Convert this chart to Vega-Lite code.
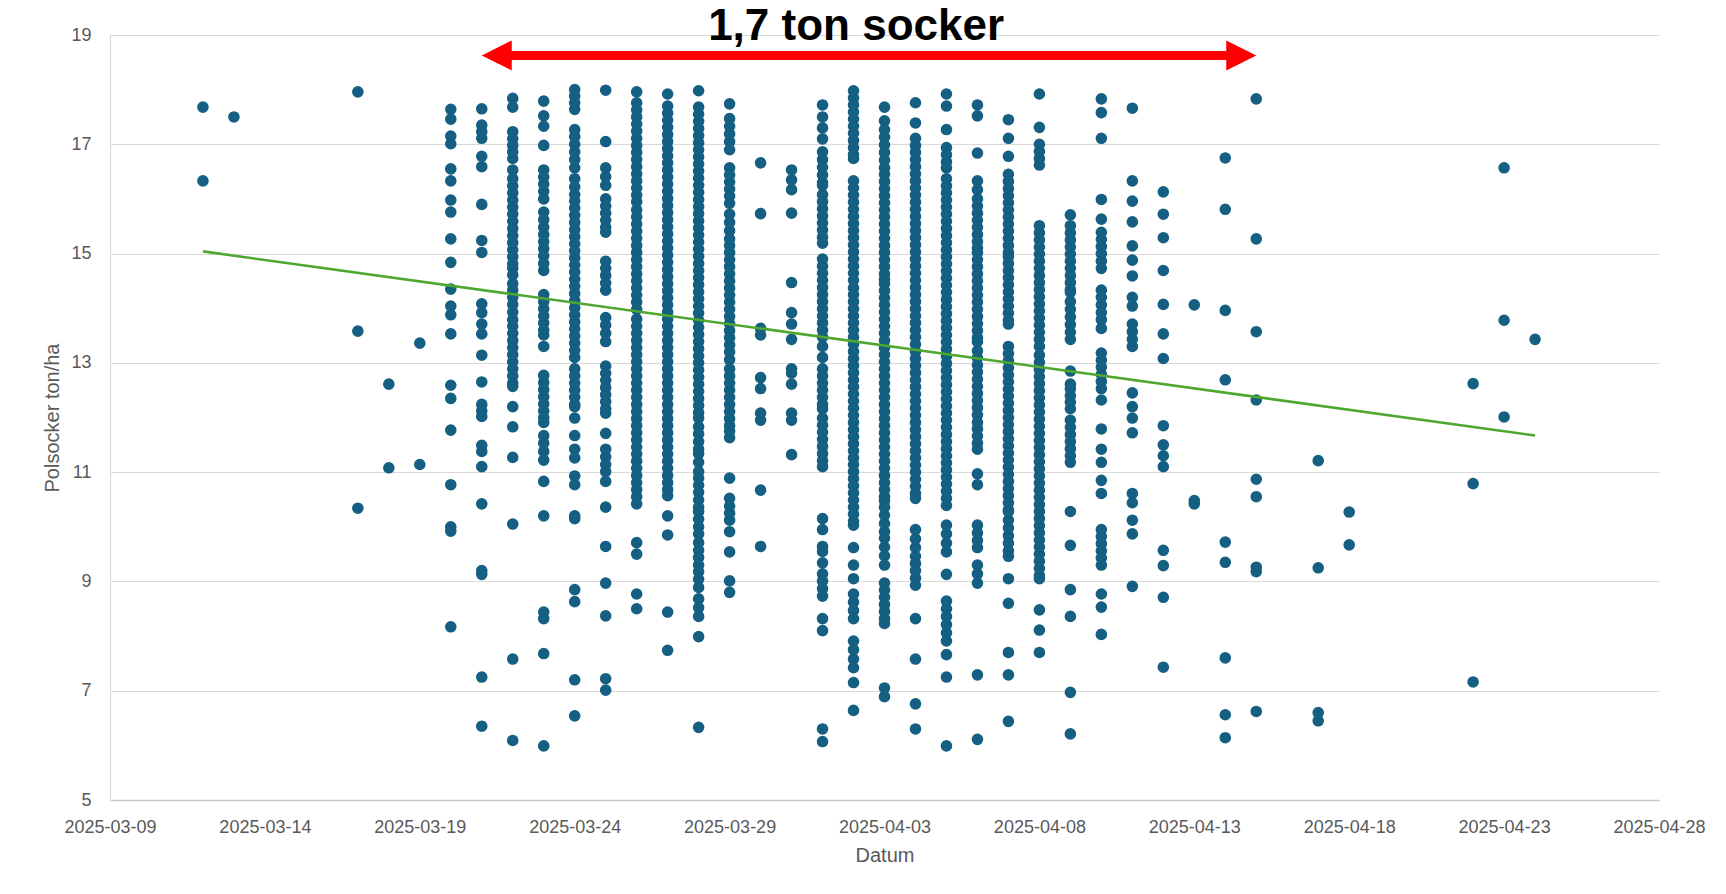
{
"$schema":"https://vega.github.io/schema/vega-lite/v6.json",
"width":1549,"height":765,
"autosize":{"type":"none"},
"padding":{"left":110,"top":35,"right":67,"bottom":94},
"background":"white",
"config":{"view":{"stroke":null},"font":"Liberation Sans"},
"datasets":{
"beets":[
{"datum":"2025-03-12","ton":17.68},{"datum":"2025-03-12","ton":16.33},
{"datum":"2025-03-13","ton":17.5},
{"datum":"2025-03-17","ton":17.96},{"datum":"2025-03-17","ton":13.58},{"datum":"2025-03-17","ton":10.34},
{"datum":"2025-03-18","ton":12.61},{"datum":"2025-03-18","ton":11.08},
{"datum":"2025-03-19","ton":13.36},{"datum":"2025-03-19","ton":11.14},
{"datum":"2025-03-20","ton":17.64},{"datum":"2025-03-20","ton":17.46},{"datum":"2025-03-20","ton":17.15},{"datum":"2025-03-20","ton":17.01},{"datum":"2025-03-20","ton":16.55},{"datum":"2025-03-20","ton":16.33},{"datum":"2025-03-20","ton":15.98},{"datum":"2025-03-20","ton":15.76},{"datum":"2025-03-20","ton":15.27},{"datum":"2025-03-20","ton":14.84},{"datum":"2025-03-20","ton":14.35},{"datum":"2025-03-20","ton":14.04},{"datum":"2025-03-20","ton":13.88},{"datum":"2025-03-20","ton":13.53},{"datum":"2025-03-20","ton":12.59},{"datum":"2025-03-20","ton":12.35},{"datum":"2025-03-20","ton":11.77},{"datum":"2025-03-20","ton":10.77},{"datum":"2025-03-20","ton":10.0},{"datum":"2025-03-20","ton":9.92},{"datum":"2025-03-20","ton":8.17},
{"datum":"2025-03-21","ton":17.65},{"datum":"2025-03-21","ton":17.35},{"datum":"2025-03-21","ton":17.23},{"datum":"2025-03-21","ton":17.11},{"datum":"2025-03-21","ton":16.78},{"datum":"2025-03-21","ton":16.59},{"datum":"2025-03-21","ton":15.9},{"datum":"2025-03-21","ton":15.24},{"datum":"2025-03-21","ton":15.02},{"datum":"2025-03-21","ton":14.08},{"datum":"2025-03-21","ton":13.92},{"datum":"2025-03-21","ton":13.71},{"datum":"2025-03-21","ton":13.53},{"datum":"2025-03-21","ton":13.14},{"datum":"2025-03-21","ton":12.65},{"datum":"2025-03-21","ton":12.24},{"datum":"2025-03-21","ton":12.12},{"datum":"2025-03-21","ton":12.02},{"datum":"2025-03-21","ton":11.49},{"datum":"2025-03-21","ton":11.38},{"datum":"2025-03-21","ton":11.1},{"datum":"2025-03-21","ton":10.42},{"datum":"2025-03-21","ton":9.2},{"datum":"2025-03-21","ton":9.13},{"datum":"2025-03-21","ton":7.25},{"datum":"2025-03-21","ton":6.35},
{"datum":"2025-03-22","ton":17.84},{"datum":"2025-03-22","ton":17.68},{"datum":"2025-03-22","ton":17.23},{"datum":"2025-03-22","ton":17.1},{"datum":"2025-03-22","ton":16.98},{"datum":"2025-03-22","ton":16.86},{"datum":"2025-03-22","ton":16.74},{"datum":"2025-03-22","ton":16.53},{"datum":"2025-03-22","ton":16.37},{"datum":"2025-03-22","ton":16.24},{"datum":"2025-03-22","ton":16.11},{"datum":"2025-03-22","ton":15.98},{"datum":"2025-03-22","ton":15.85},{"datum":"2025-03-22","ton":15.72},{"datum":"2025-03-22","ton":15.59},{"datum":"2025-03-22","ton":15.46},{"datum":"2025-03-22","ton":15.33},{"datum":"2025-03-22","ton":15.2},{"datum":"2025-03-22","ton":15.07},{"datum":"2025-03-22","ton":14.94},{"datum":"2025-03-22","ton":14.81},{"datum":"2025-03-22","ton":14.73},{"datum":"2025-03-22","ton":14.61},{"datum":"2025-03-22","ton":14.45},{"datum":"2025-03-22","ton":14.33},{"datum":"2025-03-22","ton":14.2},{"datum":"2025-03-22","ton":14.07},{"datum":"2025-03-22","ton":13.93},{"datum":"2025-03-22","ton":13.79},{"datum":"2025-03-22","ton":13.67},{"datum":"2025-03-22","ton":13.54},{"datum":"2025-03-22","ton":13.41},{"datum":"2025-03-22","ton":13.28},{"datum":"2025-03-22","ton":13.15},{"datum":"2025-03-22","ton":13.02},{"datum":"2025-03-22","ton":12.89},{"datum":"2025-03-22","ton":12.76},{"datum":"2025-03-22","ton":12.63},{"datum":"2025-03-22","ton":12.57},{"datum":"2025-03-22","ton":12.2},{"datum":"2025-03-22","ton":11.83},{"datum":"2025-03-22","ton":11.27},{"datum":"2025-03-22","ton":10.05},{"datum":"2025-03-22","ton":7.58},{"datum":"2025-03-22","ton":6.09},
{"datum":"2025-03-23","ton":17.79},{"datum":"2025-03-23","ton":17.52},{"datum":"2025-03-23","ton":17.33},{"datum":"2025-03-23","ton":16.98},{"datum":"2025-03-23","ton":16.53},{"datum":"2025-03-23","ton":16.4},{"datum":"2025-03-23","ton":16.27},{"datum":"2025-03-23","ton":16.14},{"datum":"2025-03-23","ton":16.0},{"datum":"2025-03-23","ton":15.76},{"datum":"2025-03-23","ton":15.62},{"datum":"2025-03-23","ton":15.48},{"datum":"2025-03-23","ton":15.35},{"datum":"2025-03-23","ton":15.22},{"datum":"2025-03-23","ton":15.09},{"datum":"2025-03-23","ton":14.96},{"datum":"2025-03-23","ton":14.82},{"datum":"2025-03-23","ton":14.69},{"datum":"2025-03-23","ton":14.25},{"datum":"2025-03-23","ton":14.12},{"datum":"2025-03-23","ton":13.99},{"datum":"2025-03-23","ton":13.86},{"datum":"2025-03-23","ton":13.73},{"datum":"2025-03-23","ton":13.6},{"datum":"2025-03-23","ton":13.51},{"datum":"2025-03-23","ton":13.3},{"datum":"2025-03-23","ton":12.77},{"datum":"2025-03-23","ton":12.64},{"datum":"2025-03-23","ton":12.51},{"datum":"2025-03-23","ton":12.38},{"datum":"2025-03-23","ton":12.25},{"datum":"2025-03-23","ton":12.12},{"datum":"2025-03-23","ton":12.0},{"datum":"2025-03-23","ton":11.91},{"datum":"2025-03-23","ton":11.67},{"datum":"2025-03-23","ton":11.53},{"datum":"2025-03-23","ton":11.38},{"datum":"2025-03-23","ton":11.22},{"datum":"2025-03-23","ton":10.83},{"datum":"2025-03-23","ton":10.2},{"datum":"2025-03-23","ton":8.44},{"datum":"2025-03-23","ton":8.32},{"datum":"2025-03-23","ton":7.68},{"datum":"2025-03-23","ton":5.99},
{"datum":"2025-03-24","ton":18.0},{"datum":"2025-03-24","ton":17.88},{"datum":"2025-03-24","ton":17.76},{"datum":"2025-03-24","ton":17.64},{"datum":"2025-03-24","ton":17.27},{"datum":"2025-03-24","ton":17.14},{"datum":"2025-03-24","ton":17.0},{"datum":"2025-03-24","ton":16.86},{"datum":"2025-03-24","ton":16.72},{"datum":"2025-03-24","ton":16.57},{"datum":"2025-03-24","ton":16.37},{"datum":"2025-03-24","ton":16.22},{"datum":"2025-03-24","ton":16.08},{"datum":"2025-03-24","ton":15.96},{"datum":"2025-03-24","ton":15.83},{"datum":"2025-03-24","ton":15.7},{"datum":"2025-03-24","ton":15.57},{"datum":"2025-03-24","ton":15.44},{"datum":"2025-03-24","ton":15.31},{"datum":"2025-03-24","ton":15.18},{"datum":"2025-03-24","ton":15.05},{"datum":"2025-03-24","ton":14.92},{"datum":"2025-03-24","ton":14.79},{"datum":"2025-03-24","ton":14.66},{"datum":"2025-03-24","ton":14.53},{"datum":"2025-03-24","ton":14.4},{"datum":"2025-03-24","ton":14.27},{"datum":"2025-03-24","ton":14.14},{"datum":"2025-03-24","ton":14.01},{"datum":"2025-03-24","ton":13.88},{"datum":"2025-03-24","ton":13.75},{"datum":"2025-03-24","ton":13.62},{"datum":"2025-03-24","ton":13.49},{"datum":"2025-03-24","ton":13.36},{"datum":"2025-03-24","ton":13.23},{"datum":"2025-03-24","ton":13.1},{"datum":"2025-03-24","ton":12.89},{"datum":"2025-03-24","ton":12.76},{"datum":"2025-03-24","ton":12.63},{"datum":"2025-03-24","ton":12.5},{"datum":"2025-03-24","ton":12.37},{"datum":"2025-03-24","ton":12.24},{"datum":"2025-03-24","ton":12.2},{"datum":"2025-03-24","ton":11.99},{"datum":"2025-03-24","ton":11.67},{"datum":"2025-03-24","ton":11.42},{"datum":"2025-03-24","ton":11.26},{"datum":"2025-03-24","ton":10.93},{"datum":"2025-03-24","ton":10.77},{"datum":"2025-03-24","ton":10.2},{"datum":"2025-03-24","ton":10.15},{"datum":"2025-03-24","ton":8.85},{"datum":"2025-03-24","ton":8.63},{"datum":"2025-03-24","ton":7.2},{"datum":"2025-03-24","ton":6.54},
{"datum":"2025-03-25","ton":17.99},{"datum":"2025-03-25","ton":17.05},{"datum":"2025-03-25","ton":16.57},{"datum":"2025-03-25","ton":16.41},{"datum":"2025-03-25","ton":16.25},{"datum":"2025-03-25","ton":16.0},{"datum":"2025-03-25","ton":15.87},{"datum":"2025-03-25","ton":15.74},{"datum":"2025-03-25","ton":15.61},{"datum":"2025-03-25","ton":15.48},{"datum":"2025-03-25","ton":15.39},{"datum":"2025-03-25","ton":14.86},{"datum":"2025-03-25","ton":14.73},{"datum":"2025-03-25","ton":14.6},{"datum":"2025-03-25","ton":14.46},{"datum":"2025-03-25","ton":14.33},{"datum":"2025-03-25","ton":13.83},{"datum":"2025-03-25","ton":13.69},{"datum":"2025-03-25","ton":13.54},{"datum":"2025-03-25","ton":13.39},{"datum":"2025-03-25","ton":12.94},{"datum":"2025-03-25","ton":12.81},{"datum":"2025-03-25","ton":12.68},{"datum":"2025-03-25","ton":12.55},{"datum":"2025-03-25","ton":12.42},{"datum":"2025-03-25","ton":12.29},{"datum":"2025-03-25","ton":12.16},{"datum":"2025-03-25","ton":12.08},{"datum":"2025-03-25","ton":11.71},{"datum":"2025-03-25","ton":11.42},{"datum":"2025-03-25","ton":11.28},{"datum":"2025-03-25","ton":11.14},{"datum":"2025-03-25","ton":11.01},{"datum":"2025-03-25","ton":10.83},{"datum":"2025-03-25","ton":10.36},{"datum":"2025-03-25","ton":9.64},{"datum":"2025-03-25","ton":8.97},{"datum":"2025-03-25","ton":8.37},{"datum":"2025-03-25","ton":7.22},{"datum":"2025-03-25","ton":7.01},
{"datum":"2025-03-26","ton":17.96},{"datum":"2025-03-26","ton":17.76},{"datum":"2025-03-26","ton":17.63},{"datum":"2025-03-26","ton":17.5},{"datum":"2025-03-26","ton":17.37},{"datum":"2025-03-26","ton":17.24},{"datum":"2025-03-26","ton":17.11},{"datum":"2025-03-26","ton":16.98},{"datum":"2025-03-26","ton":16.85},{"datum":"2025-03-26","ton":16.72},{"datum":"2025-03-26","ton":16.59},{"datum":"2025-03-26","ton":16.46},{"datum":"2025-03-26","ton":16.33},{"datum":"2025-03-26","ton":16.2},{"datum":"2025-03-26","ton":16.07},{"datum":"2025-03-26","ton":15.95},{"datum":"2025-03-26","ton":15.8},{"datum":"2025-03-26","ton":15.67},{"datum":"2025-03-26","ton":15.54},{"datum":"2025-03-26","ton":15.41},{"datum":"2025-03-26","ton":15.28},{"datum":"2025-03-26","ton":15.15},{"datum":"2025-03-26","ton":15.02},{"datum":"2025-03-26","ton":14.89},{"datum":"2025-03-26","ton":14.76},{"datum":"2025-03-26","ton":14.63},{"datum":"2025-03-26","ton":14.5},{"datum":"2025-03-26","ton":14.37},{"datum":"2025-03-26","ton":14.24},{"datum":"2025-03-26","ton":14.11},{"datum":"2025-03-26","ton":13.98},{"datum":"2025-03-26","ton":13.8},{"datum":"2025-03-26","ton":13.67},{"datum":"2025-03-26","ton":13.54},{"datum":"2025-03-26","ton":13.41},{"datum":"2025-03-26","ton":13.28},{"datum":"2025-03-26","ton":13.15},{"datum":"2025-03-26","ton":13.02},{"datum":"2025-03-26","ton":12.89},{"datum":"2025-03-26","ton":12.76},{"datum":"2025-03-26","ton":12.63},{"datum":"2025-03-26","ton":12.5},{"datum":"2025-03-26","ton":12.37},{"datum":"2025-03-26","ton":12.24},{"datum":"2025-03-26","ton":12.11},{"datum":"2025-03-26","ton":11.98},{"datum":"2025-03-26","ton":11.85},{"datum":"2025-03-26","ton":11.72},{"datum":"2025-03-26","ton":11.59},{"datum":"2025-03-26","ton":11.46},{"datum":"2025-03-26","ton":11.33},{"datum":"2025-03-26","ton":11.2},{"datum":"2025-03-26","ton":11.07},{"datum":"2025-03-26","ton":10.94},{"datum":"2025-03-26","ton":10.81},{"datum":"2025-03-26","ton":10.68},{"datum":"2025-03-26","ton":10.55},{"datum":"2025-03-26","ton":10.42},{"datum":"2025-03-26","ton":9.71},{"datum":"2025-03-26","ton":9.5},{"datum":"2025-03-26","ton":8.77},{"datum":"2025-03-26","ton":8.5},
{"datum":"2025-03-27","ton":17.92},{"datum":"2025-03-27","ton":17.7},{"datum":"2025-03-27","ton":17.57},{"datum":"2025-03-27","ton":17.44},{"datum":"2025-03-27","ton":17.31},{"datum":"2025-03-27","ton":17.18},{"datum":"2025-03-27","ton":17.05},{"datum":"2025-03-27","ton":16.92},{"datum":"2025-03-27","ton":16.79},{"datum":"2025-03-27","ton":16.66},{"datum":"2025-03-27","ton":16.53},{"datum":"2025-03-27","ton":16.4},{"datum":"2025-03-27","ton":16.27},{"datum":"2025-03-27","ton":16.14},{"datum":"2025-03-27","ton":16.01},{"datum":"2025-03-27","ton":15.88},{"datum":"2025-03-27","ton":15.75},{"datum":"2025-03-27","ton":15.62},{"datum":"2025-03-27","ton":15.49},{"datum":"2025-03-27","ton":15.36},{"datum":"2025-03-27","ton":15.23},{"datum":"2025-03-27","ton":15.1},{"datum":"2025-03-27","ton":14.97},{"datum":"2025-03-27","ton":14.84},{"datum":"2025-03-27","ton":14.71},{"datum":"2025-03-27","ton":14.58},{"datum":"2025-03-27","ton":14.45},{"datum":"2025-03-27","ton":14.32},{"datum":"2025-03-27","ton":14.19},{"datum":"2025-03-27","ton":14.06},{"datum":"2025-03-27","ton":13.93},{"datum":"2025-03-27","ton":13.8},{"datum":"2025-03-27","ton":13.67},{"datum":"2025-03-27","ton":13.54},{"datum":"2025-03-27","ton":13.41},{"datum":"2025-03-27","ton":13.28},{"datum":"2025-03-27","ton":13.15},{"datum":"2025-03-27","ton":13.02},{"datum":"2025-03-27","ton":12.89},{"datum":"2025-03-27","ton":12.76},{"datum":"2025-03-27","ton":12.63},{"datum":"2025-03-27","ton":12.5},{"datum":"2025-03-27","ton":12.37},{"datum":"2025-03-27","ton":12.24},{"datum":"2025-03-27","ton":12.11},{"datum":"2025-03-27","ton":11.98},{"datum":"2025-03-27","ton":11.85},{"datum":"2025-03-27","ton":11.72},{"datum":"2025-03-27","ton":11.59},{"datum":"2025-03-27","ton":11.46},{"datum":"2025-03-27","ton":11.33},{"datum":"2025-03-27","ton":11.2},{"datum":"2025-03-27","ton":11.07},{"datum":"2025-03-27","ton":10.94},{"datum":"2025-03-27","ton":10.81},{"datum":"2025-03-27","ton":10.68},{"datum":"2025-03-27","ton":10.57},{"datum":"2025-03-27","ton":10.2},{"datum":"2025-03-27","ton":9.85},{"datum":"2025-03-27","ton":8.44},{"datum":"2025-03-27","ton":7.74},
{"datum":"2025-03-28","ton":17.98},{"datum":"2025-03-28","ton":17.68},{"datum":"2025-03-28","ton":17.55},{"datum":"2025-03-28","ton":17.42},{"datum":"2025-03-28","ton":17.29},{"datum":"2025-03-28","ton":17.16},{"datum":"2025-03-28","ton":17.03},{"datum":"2025-03-28","ton":16.9},{"datum":"2025-03-28","ton":16.77},{"datum":"2025-03-28","ton":16.64},{"datum":"2025-03-28","ton":16.51},{"datum":"2025-03-28","ton":16.38},{"datum":"2025-03-28","ton":16.25},{"datum":"2025-03-28","ton":16.12},{"datum":"2025-03-28","ton":15.99},{"datum":"2025-03-28","ton":15.86},{"datum":"2025-03-28","ton":15.73},{"datum":"2025-03-28","ton":15.6},{"datum":"2025-03-28","ton":15.47},{"datum":"2025-03-28","ton":15.34},{"datum":"2025-03-28","ton":15.21},{"datum":"2025-03-28","ton":15.08},{"datum":"2025-03-28","ton":14.95},{"datum":"2025-03-28","ton":14.82},{"datum":"2025-03-28","ton":14.69},{"datum":"2025-03-28","ton":14.56},{"datum":"2025-03-28","ton":14.43},{"datum":"2025-03-28","ton":14.3},{"datum":"2025-03-28","ton":14.17},{"datum":"2025-03-28","ton":14.04},{"datum":"2025-03-28","ton":13.91},{"datum":"2025-03-28","ton":13.78},{"datum":"2025-03-28","ton":13.65},{"datum":"2025-03-28","ton":13.52},{"datum":"2025-03-28","ton":13.39},{"datum":"2025-03-28","ton":13.26},{"datum":"2025-03-28","ton":13.13},{"datum":"2025-03-28","ton":13.0},{"datum":"2025-03-28","ton":12.87},{"datum":"2025-03-28","ton":12.74},{"datum":"2025-03-28","ton":12.61},{"datum":"2025-03-28","ton":12.48},{"datum":"2025-03-28","ton":12.35},{"datum":"2025-03-28","ton":12.22},{"datum":"2025-03-28","ton":12.09},{"datum":"2025-03-28","ton":11.99},{"datum":"2025-03-28","ton":11.83},{"datum":"2025-03-28","ton":11.7},{"datum":"2025-03-28","ton":11.56},{"datum":"2025-03-28","ton":11.42},{"datum":"2025-03-28","ton":11.34},{"datum":"2025-03-28","ton":11.18},{"datum":"2025-03-28","ton":11.01},{"datum":"2025-03-28","ton":10.89},{"datum":"2025-03-28","ton":10.76},{"datum":"2025-03-28","ton":10.63},{"datum":"2025-03-28","ton":10.49},{"datum":"2025-03-28","ton":10.36},{"datum":"2025-03-28","ton":10.28},{"datum":"2025-03-28","ton":10.14},{"datum":"2025-03-28","ton":10.0},{"datum":"2025-03-28","ton":9.87},{"datum":"2025-03-28","ton":9.71},{"datum":"2025-03-28","ton":9.57},{"datum":"2025-03-28","ton":9.44},{"datum":"2025-03-28","ton":9.3},{"datum":"2025-03-28","ton":9.18},{"datum":"2025-03-28","ton":9.04},{"datum":"2025-03-28","ton":8.89},{"datum":"2025-03-28","ton":8.68},{"datum":"2025-03-28","ton":8.52},{"datum":"2025-03-28","ton":8.36},{"datum":"2025-03-28","ton":7.99},{"datum":"2025-03-28","ton":6.33},
{"datum":"2025-03-29","ton":17.74},{"datum":"2025-03-29","ton":17.47},{"datum":"2025-03-29","ton":17.33},{"datum":"2025-03-29","ton":17.19},{"datum":"2025-03-29","ton":17.05},{"datum":"2025-03-29","ton":16.9},{"datum":"2025-03-29","ton":16.57},{"datum":"2025-03-29","ton":16.44},{"datum":"2025-03-29","ton":16.31},{"datum":"2025-03-29","ton":16.18},{"datum":"2025-03-29","ton":16.05},{"datum":"2025-03-29","ton":15.92},{"datum":"2025-03-29","ton":15.72},{"datum":"2025-03-29","ton":15.57},{"datum":"2025-03-29","ton":15.42},{"datum":"2025-03-29","ton":15.27},{"datum":"2025-03-29","ton":15.15},{"datum":"2025-03-29","ton":15.02},{"datum":"2025-03-29","ton":14.89},{"datum":"2025-03-29","ton":14.76},{"datum":"2025-03-29","ton":14.63},{"datum":"2025-03-29","ton":14.5},{"datum":"2025-03-29","ton":14.37},{"datum":"2025-03-29","ton":14.24},{"datum":"2025-03-29","ton":14.11},{"datum":"2025-03-29","ton":13.98},{"datum":"2025-03-29","ton":13.85},{"datum":"2025-03-29","ton":13.72},{"datum":"2025-03-29","ton":13.59},{"datum":"2025-03-29","ton":13.46},{"datum":"2025-03-29","ton":13.33},{"datum":"2025-03-29","ton":13.2},{"datum":"2025-03-29","ton":13.06},{"datum":"2025-03-29","ton":12.89},{"datum":"2025-03-29","ton":12.76},{"datum":"2025-03-29","ton":12.63},{"datum":"2025-03-29","ton":12.5},{"datum":"2025-03-29","ton":12.37},{"datum":"2025-03-29","ton":12.24},{"datum":"2025-03-29","ton":12.11},{"datum":"2025-03-29","ton":11.98},{"datum":"2025-03-29","ton":11.85},{"datum":"2025-03-29","ton":11.75},{"datum":"2025-03-29","ton":11.63},{"datum":"2025-03-29","ton":10.89},{"datum":"2025-03-29","ton":10.52},{"datum":"2025-03-29","ton":10.38},{"datum":"2025-03-29","ton":10.25},{"datum":"2025-03-29","ton":10.12},{"datum":"2025-03-29","ton":9.91},{"datum":"2025-03-29","ton":9.54},{"datum":"2025-03-29","ton":9.01},{"datum":"2025-03-29","ton":8.8},
{"datum":"2025-03-30","ton":16.66},{"datum":"2025-03-30","ton":15.73},{"datum":"2025-03-30","ton":13.63},{"datum":"2025-03-30","ton":13.51},{"datum":"2025-03-30","ton":12.73},{"datum":"2025-03-30","ton":12.53},{"datum":"2025-03-30","ton":12.08},{"datum":"2025-03-30","ton":11.95},{"datum":"2025-03-30","ton":10.67},{"datum":"2025-03-30","ton":9.64},
{"datum":"2025-03-31","ton":16.53},{"datum":"2025-03-31","ton":16.35},{"datum":"2025-03-31","ton":16.17},{"datum":"2025-03-31","ton":15.74},{"datum":"2025-03-31","ton":14.47},{"datum":"2025-03-31","ton":13.92},{"datum":"2025-03-31","ton":13.71},{"datum":"2025-03-31","ton":13.43},{"datum":"2025-03-31","ton":12.89},{"datum":"2025-03-31","ton":12.81},{"datum":"2025-03-31","ton":12.61},{"datum":"2025-03-31","ton":12.08},{"datum":"2025-03-31","ton":11.95},{"datum":"2025-03-31","ton":11.32},
{"datum":"2025-04-01","ton":17.72},{"datum":"2025-04-01","ton":17.5},{"datum":"2025-04-01","ton":17.3},{"datum":"2025-04-01","ton":17.1},{"datum":"2025-04-01","ton":16.86},{"datum":"2025-04-01","ton":16.72},{"datum":"2025-04-01","ton":16.58},{"datum":"2025-04-01","ton":16.44},{"datum":"2025-04-01","ton":16.3},{"datum":"2025-04-01","ton":16.25},{"datum":"2025-04-01","ton":16.08},{"datum":"2025-04-01","ton":15.95},{"datum":"2025-04-01","ton":15.82},{"datum":"2025-04-01","ton":15.69},{"datum":"2025-04-01","ton":15.56},{"datum":"2025-04-01","ton":15.43},{"datum":"2025-04-01","ton":15.3},{"datum":"2025-04-01","ton":15.19},{"datum":"2025-04-01","ton":14.9},{"datum":"2025-04-01","ton":14.77},{"datum":"2025-04-01","ton":14.64},{"datum":"2025-04-01","ton":14.51},{"datum":"2025-04-01","ton":14.38},{"datum":"2025-04-01","ton":14.25},{"datum":"2025-04-01","ton":14.12},{"datum":"2025-04-01","ton":13.99},{"datum":"2025-04-01","ton":13.86},{"datum":"2025-04-01","ton":13.73},{"datum":"2025-04-01","ton":13.6},{"datum":"2025-04-01","ton":13.47},{"datum":"2025-04-01","ton":13.3},{"datum":"2025-04-01","ton":13.1},{"datum":"2025-04-01","ton":12.89},{"datum":"2025-04-01","ton":12.76},{"datum":"2025-04-01","ton":12.63},{"datum":"2025-04-01","ton":12.5},{"datum":"2025-04-01","ton":12.37},{"datum":"2025-04-01","ton":12.24},{"datum":"2025-04-01","ton":12.16},{"datum":"2025-04-01","ton":11.99},{"datum":"2025-04-01","ton":11.86},{"datum":"2025-04-01","ton":11.73},{"datum":"2025-04-01","ton":11.6},{"datum":"2025-04-01","ton":11.47},{"datum":"2025-04-01","ton":11.34},{"datum":"2025-04-01","ton":11.21},{"datum":"2025-04-01","ton":11.1},{"datum":"2025-04-01","ton":10.15},{"datum":"2025-04-01","ton":9.95},{"datum":"2025-04-01","ton":9.64},{"datum":"2025-04-01","ton":9.55},{"datum":"2025-04-01","ton":9.34},{"datum":"2025-04-01","ton":9.14},{"datum":"2025-04-01","ton":9.01},{"datum":"2025-04-01","ton":8.87},{"datum":"2025-04-01","ton":8.73},{"datum":"2025-04-01","ton":8.32},{"datum":"2025-04-01","ton":8.1},{"datum":"2025-04-01","ton":6.3},{"datum":"2025-04-01","ton":6.07},
{"datum":"2025-04-02","ton":17.98},{"datum":"2025-04-02","ton":17.85},{"datum":"2025-04-02","ton":17.72},{"datum":"2025-04-02","ton":17.59},{"datum":"2025-04-02","ton":17.46},{"datum":"2025-04-02","ton":17.33},{"datum":"2025-04-02","ton":17.2},{"datum":"2025-04-02","ton":17.07},{"datum":"2025-04-02","ton":16.94},{"datum":"2025-04-02","ton":16.81},{"datum":"2025-04-02","ton":16.74},{"datum":"2025-04-02","ton":16.33},{"datum":"2025-04-02","ton":16.2},{"datum":"2025-04-02","ton":16.07},{"datum":"2025-04-02","ton":15.94},{"datum":"2025-04-02","ton":15.81},{"datum":"2025-04-02","ton":15.68},{"datum":"2025-04-02","ton":15.55},{"datum":"2025-04-02","ton":15.42},{"datum":"2025-04-02","ton":15.29},{"datum":"2025-04-02","ton":15.16},{"datum":"2025-04-02","ton":15.03},{"datum":"2025-04-02","ton":14.9},{"datum":"2025-04-02","ton":14.77},{"datum":"2025-04-02","ton":14.64},{"datum":"2025-04-02","ton":14.51},{"datum":"2025-04-02","ton":14.37},{"datum":"2025-04-02","ton":14.25},{"datum":"2025-04-02","ton":14.12},{"datum":"2025-04-02","ton":13.99},{"datum":"2025-04-02","ton":13.86},{"datum":"2025-04-02","ton":13.73},{"datum":"2025-04-02","ton":13.6},{"datum":"2025-04-02","ton":13.47},{"datum":"2025-04-02","ton":13.34},{"datum":"2025-04-02","ton":13.21},{"datum":"2025-04-02","ton":13.08},{"datum":"2025-04-02","ton":12.95},{"datum":"2025-04-02","ton":12.82},{"datum":"2025-04-02","ton":12.69},{"datum":"2025-04-02","ton":12.56},{"datum":"2025-04-02","ton":12.43},{"datum":"2025-04-02","ton":12.3},{"datum":"2025-04-02","ton":12.17},{"datum":"2025-04-02","ton":12.04},{"datum":"2025-04-02","ton":11.91},{"datum":"2025-04-02","ton":11.78},{"datum":"2025-04-02","ton":11.65},{"datum":"2025-04-02","ton":11.52},{"datum":"2025-04-02","ton":11.39},{"datum":"2025-04-02","ton":11.26},{"datum":"2025-04-02","ton":11.14},{"datum":"2025-04-02","ton":11.01},{"datum":"2025-04-02","ton":10.88},{"datum":"2025-04-02","ton":10.75},{"datum":"2025-04-02","ton":10.62},{"datum":"2025-04-02","ton":10.49},{"datum":"2025-04-02","ton":10.36},{"datum":"2025-04-02","ton":10.23},{"datum":"2025-04-02","ton":10.1},{"datum":"2025-04-02","ton":10.03},{"datum":"2025-04-02","ton":9.62},{"datum":"2025-04-02","ton":9.3},{"datum":"2025-04-02","ton":9.05},{"datum":"2025-04-02","ton":8.77},{"datum":"2025-04-02","ton":8.62},{"datum":"2025-04-02","ton":8.47},{"datum":"2025-04-02","ton":8.32},{"datum":"2025-04-02","ton":7.91},{"datum":"2025-04-02","ton":7.75},{"datum":"2025-04-02","ton":7.58},{"datum":"2025-04-02","ton":7.42},{"datum":"2025-04-02","ton":7.15},{"datum":"2025-04-02","ton":6.64},
{"datum":"2025-04-03","ton":17.68},{"datum":"2025-04-03","ton":17.43},{"datum":"2025-04-03","ton":17.27},{"datum":"2025-04-03","ton":17.13},{"datum":"2025-04-03","ton":16.99},{"datum":"2025-04-03","ton":16.85},{"datum":"2025-04-03","ton":16.71},{"datum":"2025-04-03","ton":16.57},{"datum":"2025-04-03","ton":16.45},{"datum":"2025-04-03","ton":16.32},{"datum":"2025-04-03","ton":16.19},{"datum":"2025-04-03","ton":16.06},{"datum":"2025-04-03","ton":15.93},{"datum":"2025-04-03","ton":15.8},{"datum":"2025-04-03","ton":15.67},{"datum":"2025-04-03","ton":15.54},{"datum":"2025-04-03","ton":15.41},{"datum":"2025-04-03","ton":15.28},{"datum":"2025-04-03","ton":15.15},{"datum":"2025-04-03","ton":15.02},{"datum":"2025-04-03","ton":14.89},{"datum":"2025-04-03","ton":14.76},{"datum":"2025-04-03","ton":14.63},{"datum":"2025-04-03","ton":14.53},{"datum":"2025-04-03","ton":14.45},{"datum":"2025-04-03","ton":14.32},{"datum":"2025-04-03","ton":14.19},{"datum":"2025-04-03","ton":14.06},{"datum":"2025-04-03","ton":13.93},{"datum":"2025-04-03","ton":13.8},{"datum":"2025-04-03","ton":13.67},{"datum":"2025-04-03","ton":13.54},{"datum":"2025-04-03","ton":13.41},{"datum":"2025-04-03","ton":13.28},{"datum":"2025-04-03","ton":13.15},{"datum":"2025-04-03","ton":13.02},{"datum":"2025-04-03","ton":12.89},{"datum":"2025-04-03","ton":12.76},{"datum":"2025-04-03","ton":12.63},{"datum":"2025-04-03","ton":12.5},{"datum":"2025-04-03","ton":12.37},{"datum":"2025-04-03","ton":12.24},{"datum":"2025-04-03","ton":12.11},{"datum":"2025-04-03","ton":11.98},{"datum":"2025-04-03","ton":11.85},{"datum":"2025-04-03","ton":11.72},{"datum":"2025-04-03","ton":11.59},{"datum":"2025-04-03","ton":11.46},{"datum":"2025-04-03","ton":11.33},{"datum":"2025-04-03","ton":11.2},{"datum":"2025-04-03","ton":11.07},{"datum":"2025-04-03","ton":10.94},{"datum":"2025-04-03","ton":10.81},{"datum":"2025-04-03","ton":10.68},{"datum":"2025-04-03","ton":10.55},{"datum":"2025-04-03","ton":10.48},{"datum":"2025-04-03","ton":10.36},{"datum":"2025-04-03","ton":10.21},{"datum":"2025-04-03","ton":10.06},{"datum":"2025-04-03","ton":9.91},{"datum":"2025-04-03","ton":9.79},{"datum":"2025-04-03","ton":9.63},{"datum":"2025-04-03","ton":9.47},{"datum":"2025-04-03","ton":9.3},{"datum":"2025-04-03","ton":8.97},{"datum":"2025-04-03","ton":8.84},{"datum":"2025-04-03","ton":8.71},{"datum":"2025-04-03","ton":8.58},{"datum":"2025-04-03","ton":8.45},{"datum":"2025-04-03","ton":8.32},{"datum":"2025-04-03","ton":8.23},{"datum":"2025-04-03","ton":7.05},{"datum":"2025-04-03","ton":6.89},
{"datum":"2025-04-04","ton":17.76},{"datum":"2025-04-04","ton":17.39},{"datum":"2025-04-04","ton":17.11},{"datum":"2025-04-04","ton":16.98},{"datum":"2025-04-04","ton":16.85},{"datum":"2025-04-04","ton":16.72},{"datum":"2025-04-04","ton":16.59},{"datum":"2025-04-04","ton":16.46},{"datum":"2025-04-04","ton":16.33},{"datum":"2025-04-04","ton":16.2},{"datum":"2025-04-04","ton":16.07},{"datum":"2025-04-04","ton":15.94},{"datum":"2025-04-04","ton":15.81},{"datum":"2025-04-04","ton":15.68},{"datum":"2025-04-04","ton":15.55},{"datum":"2025-04-04","ton":15.42},{"datum":"2025-04-04","ton":15.29},{"datum":"2025-04-04","ton":15.16},{"datum":"2025-04-04","ton":15.03},{"datum":"2025-04-04","ton":14.9},{"datum":"2025-04-04","ton":14.77},{"datum":"2025-04-04","ton":14.64},{"datum":"2025-04-04","ton":14.51},{"datum":"2025-04-04","ton":14.38},{"datum":"2025-04-04","ton":14.25},{"datum":"2025-04-04","ton":14.12},{"datum":"2025-04-04","ton":13.99},{"datum":"2025-04-04","ton":13.86},{"datum":"2025-04-04","ton":13.73},{"datum":"2025-04-04","ton":13.6},{"datum":"2025-04-04","ton":13.47},{"datum":"2025-04-04","ton":13.34},{"datum":"2025-04-04","ton":13.21},{"datum":"2025-04-04","ton":13.08},{"datum":"2025-04-04","ton":12.95},{"datum":"2025-04-04","ton":12.82},{"datum":"2025-04-04","ton":12.69},{"datum":"2025-04-04","ton":12.56},{"datum":"2025-04-04","ton":12.43},{"datum":"2025-04-04","ton":12.3},{"datum":"2025-04-04","ton":12.17},{"datum":"2025-04-04","ton":12.04},{"datum":"2025-04-04","ton":11.91},{"datum":"2025-04-04","ton":11.78},{"datum":"2025-04-04","ton":11.65},{"datum":"2025-04-04","ton":11.52},{"datum":"2025-04-04","ton":11.39},{"datum":"2025-04-04","ton":11.26},{"datum":"2025-04-04","ton":11.13},{"datum":"2025-04-04","ton":11.0},{"datum":"2025-04-04","ton":10.87},{"datum":"2025-04-04","ton":10.74},{"datum":"2025-04-04","ton":10.61},{"datum":"2025-04-04","ton":10.52},{"datum":"2025-04-04","ton":9.95},{"datum":"2025-04-04","ton":9.78},{"datum":"2025-04-04","ton":9.62},{"datum":"2025-04-04","ton":9.46},{"datum":"2025-04-04","ton":9.33},{"datum":"2025-04-04","ton":9.2},{"datum":"2025-04-04","ton":9.06},{"datum":"2025-04-04","ton":8.93},{"datum":"2025-04-04","ton":8.32},{"datum":"2025-04-04","ton":7.58},{"datum":"2025-04-04","ton":6.76},{"datum":"2025-04-04","ton":6.3},
{"datum":"2025-04-05","ton":17.92},{"datum":"2025-04-05","ton":17.7},{"datum":"2025-04-05","ton":17.27},{"datum":"2025-04-05","ton":16.94},{"datum":"2025-04-05","ton":16.81},{"datum":"2025-04-05","ton":16.68},{"datum":"2025-04-05","ton":16.57},{"datum":"2025-04-05","ton":16.37},{"datum":"2025-04-05","ton":16.24},{"datum":"2025-04-05","ton":16.11},{"datum":"2025-04-05","ton":15.98},{"datum":"2025-04-05","ton":15.85},{"datum":"2025-04-05","ton":15.72},{"datum":"2025-04-05","ton":15.59},{"datum":"2025-04-05","ton":15.46},{"datum":"2025-04-05","ton":15.33},{"datum":"2025-04-05","ton":15.2},{"datum":"2025-04-05","ton":15.07},{"datum":"2025-04-05","ton":14.94},{"datum":"2025-04-05","ton":14.81},{"datum":"2025-04-05","ton":14.68},{"datum":"2025-04-05","ton":14.55},{"datum":"2025-04-05","ton":14.42},{"datum":"2025-04-05","ton":14.29},{"datum":"2025-04-05","ton":14.16},{"datum":"2025-04-05","ton":14.03},{"datum":"2025-04-05","ton":13.9},{"datum":"2025-04-05","ton":13.77},{"datum":"2025-04-05","ton":13.64},{"datum":"2025-04-05","ton":13.51},{"datum":"2025-04-05","ton":13.38},{"datum":"2025-04-05","ton":13.25},{"datum":"2025-04-05","ton":13.12},{"datum":"2025-04-05","ton":12.99},{"datum":"2025-04-05","ton":12.86},{"datum":"2025-04-05","ton":12.73},{"datum":"2025-04-05","ton":12.6},{"datum":"2025-04-05","ton":12.47},{"datum":"2025-04-05","ton":12.34},{"datum":"2025-04-05","ton":12.21},{"datum":"2025-04-05","ton":12.08},{"datum":"2025-04-05","ton":11.95},{"datum":"2025-04-05","ton":11.82},{"datum":"2025-04-05","ton":11.69},{"datum":"2025-04-05","ton":11.56},{"datum":"2025-04-05","ton":11.43},{"datum":"2025-04-05","ton":11.3},{"datum":"2025-04-05","ton":11.17},{"datum":"2025-04-05","ton":11.04},{"datum":"2025-04-05","ton":10.91},{"datum":"2025-04-05","ton":10.78},{"datum":"2025-04-05","ton":10.65},{"datum":"2025-04-05","ton":10.52},{"datum":"2025-04-05","ton":10.39},{"datum":"2025-04-05","ton":10.03},{"datum":"2025-04-05","ton":9.87},{"datum":"2025-04-05","ton":9.7},{"datum":"2025-04-05","ton":9.54},{"datum":"2025-04-05","ton":9.13},{"datum":"2025-04-05","ton":8.64},{"datum":"2025-04-05","ton":8.5},{"datum":"2025-04-05","ton":8.36},{"datum":"2025-04-05","ton":8.21},{"datum":"2025-04-05","ton":8.06},{"datum":"2025-04-05","ton":7.91},{"datum":"2025-04-05","ton":7.66},{"datum":"2025-04-05","ton":7.25},{"datum":"2025-04-05","ton":5.99},
{"datum":"2025-04-06","ton":17.72},{"datum":"2025-04-06","ton":17.52},{"datum":"2025-04-06","ton":16.84},{"datum":"2025-04-06","ton":16.33},{"datum":"2025-04-06","ton":16.17},{"datum":"2025-04-06","ton":16.0},{"datum":"2025-04-06","ton":15.87},{"datum":"2025-04-06","ton":15.74},{"datum":"2025-04-06","ton":15.61},{"datum":"2025-04-06","ton":15.48},{"datum":"2025-04-06","ton":15.35},{"datum":"2025-04-06","ton":15.22},{"datum":"2025-04-06","ton":15.1},{"datum":"2025-04-06","ton":15.02},{"datum":"2025-04-06","ton":14.89},{"datum":"2025-04-06","ton":14.76},{"datum":"2025-04-06","ton":14.63},{"datum":"2025-04-06","ton":14.5},{"datum":"2025-04-06","ton":14.37},{"datum":"2025-04-06","ton":14.24},{"datum":"2025-04-06","ton":14.11},{"datum":"2025-04-06","ton":13.98},{"datum":"2025-04-06","ton":13.85},{"datum":"2025-04-06","ton":13.72},{"datum":"2025-04-06","ton":13.59},{"datum":"2025-04-06","ton":13.46},{"datum":"2025-04-06","ton":13.39},{"datum":"2025-04-06","ton":13.22},{"datum":"2025-04-06","ton":13.09},{"datum":"2025-04-06","ton":12.96},{"datum":"2025-04-06","ton":12.83},{"datum":"2025-04-06","ton":12.7},{"datum":"2025-04-06","ton":12.57},{"datum":"2025-04-06","ton":12.44},{"datum":"2025-04-06","ton":12.31},{"datum":"2025-04-06","ton":12.18},{"datum":"2025-04-06","ton":12.05},{"datum":"2025-04-06","ton":11.91},{"datum":"2025-04-06","ton":11.79},{"datum":"2025-04-06","ton":11.66},{"datum":"2025-04-06","ton":11.53},{"datum":"2025-04-06","ton":11.42},{"datum":"2025-04-06","ton":10.97},{"datum":"2025-04-06","ton":10.77},{"datum":"2025-04-06","ton":10.03},{"datum":"2025-04-06","ton":9.89},{"datum":"2025-04-06","ton":9.75},{"datum":"2025-04-06","ton":9.62},{"datum":"2025-04-06","ton":9.3},{"datum":"2025-04-06","ton":9.14},{"datum":"2025-04-06","ton":8.97},{"datum":"2025-04-06","ton":7.29},{"datum":"2025-04-06","ton":6.11},
{"datum":"2025-04-07","ton":17.45},{"datum":"2025-04-07","ton":17.11},{"datum":"2025-04-07","ton":16.78},{"datum":"2025-04-07","ton":16.45},{"datum":"2025-04-07","ton":16.32},{"datum":"2025-04-07","ton":16.19},{"datum":"2025-04-07","ton":16.06},{"datum":"2025-04-07","ton":15.93},{"datum":"2025-04-07","ton":15.8},{"datum":"2025-04-07","ton":15.67},{"datum":"2025-04-07","ton":15.54},{"datum":"2025-04-07","ton":15.41},{"datum":"2025-04-07","ton":15.28},{"datum":"2025-04-07","ton":15.15},{"datum":"2025-04-07","ton":15.02},{"datum":"2025-04-07","ton":14.94},{"datum":"2025-04-07","ton":14.82},{"datum":"2025-04-07","ton":14.69},{"datum":"2025-04-07","ton":14.56},{"datum":"2025-04-07","ton":14.43},{"datum":"2025-04-07","ton":14.3},{"datum":"2025-04-07","ton":14.17},{"datum":"2025-04-07","ton":14.04},{"datum":"2025-04-07","ton":13.91},{"datum":"2025-04-07","ton":13.78},{"datum":"2025-04-07","ton":13.71},{"datum":"2025-04-07","ton":13.3},{"datum":"2025-04-07","ton":13.17},{"datum":"2025-04-07","ton":13.04},{"datum":"2025-04-07","ton":12.91},{"datum":"2025-04-07","ton":12.78},{"datum":"2025-04-07","ton":12.65},{"datum":"2025-04-07","ton":12.52},{"datum":"2025-04-07","ton":12.39},{"datum":"2025-04-07","ton":12.26},{"datum":"2025-04-07","ton":12.13},{"datum":"2025-04-07","ton":12.0},{"datum":"2025-04-07","ton":11.87},{"datum":"2025-04-07","ton":11.74},{"datum":"2025-04-07","ton":11.61},{"datum":"2025-04-07","ton":11.48},{"datum":"2025-04-07","ton":11.35},{"datum":"2025-04-07","ton":11.22},{"datum":"2025-04-07","ton":11.09},{"datum":"2025-04-07","ton":10.96},{"datum":"2025-04-07","ton":10.83},{"datum":"2025-04-07","ton":10.7},{"datum":"2025-04-07","ton":10.57},{"datum":"2025-04-07","ton":10.44},{"datum":"2025-04-07","ton":10.31},{"datum":"2025-04-07","ton":10.28},{"datum":"2025-04-07","ton":10.12},{"datum":"2025-04-07","ton":9.98},{"datum":"2025-04-07","ton":9.84},{"datum":"2025-04-07","ton":9.7},{"datum":"2025-04-07","ton":9.56},{"datum":"2025-04-07","ton":9.46},{"datum":"2025-04-07","ton":9.05},{"datum":"2025-04-07","ton":8.6},{"datum":"2025-04-07","ton":7.7},{"datum":"2025-04-07","ton":7.29},{"datum":"2025-04-07","ton":6.44},
{"datum":"2025-04-08","ton":17.92},{"datum":"2025-04-08","ton":17.31},{"datum":"2025-04-08","ton":17.0},{"datum":"2025-04-08","ton":16.87},{"datum":"2025-04-08","ton":16.74},{"datum":"2025-04-08","ton":16.62},{"datum":"2025-04-08","ton":15.51},{"datum":"2025-04-08","ton":15.38},{"datum":"2025-04-08","ton":15.25},{"datum":"2025-04-08","ton":15.12},{"datum":"2025-04-08","ton":14.99},{"datum":"2025-04-08","ton":14.86},{"datum":"2025-04-08","ton":14.73},{"datum":"2025-04-08","ton":14.6},{"datum":"2025-04-08","ton":14.47},{"datum":"2025-04-08","ton":14.34},{"datum":"2025-04-08","ton":14.21},{"datum":"2025-04-08","ton":14.08},{"datum":"2025-04-08","ton":13.95},{"datum":"2025-04-08","ton":13.82},{"datum":"2025-04-08","ton":13.69},{"datum":"2025-04-08","ton":13.56},{"datum":"2025-04-08","ton":13.43},{"datum":"2025-04-08","ton":13.3},{"datum":"2025-04-08","ton":13.14},{"datum":"2025-04-08","ton":13.01},{"datum":"2025-04-08","ton":12.88},{"datum":"2025-04-08","ton":12.75},{"datum":"2025-04-08","ton":12.62},{"datum":"2025-04-08","ton":12.49},{"datum":"2025-04-08","ton":12.36},{"datum":"2025-04-08","ton":12.23},{"datum":"2025-04-08","ton":12.1},{"datum":"2025-04-08","ton":11.97},{"datum":"2025-04-08","ton":11.84},{"datum":"2025-04-08","ton":11.71},{"datum":"2025-04-08","ton":11.58},{"datum":"2025-04-08","ton":11.45},{"datum":"2025-04-08","ton":11.32},{"datum":"2025-04-08","ton":11.19},{"datum":"2025-04-08","ton":11.06},{"datum":"2025-04-08","ton":10.93},{"datum":"2025-04-08","ton":10.8},{"datum":"2025-04-08","ton":10.67},{"datum":"2025-04-08","ton":10.54},{"datum":"2025-04-08","ton":10.41},{"datum":"2025-04-08","ton":10.28},{"datum":"2025-04-08","ton":10.15},{"datum":"2025-04-08","ton":10.02},{"datum":"2025-04-08","ton":9.89},{"datum":"2025-04-08","ton":9.76},{"datum":"2025-04-08","ton":9.63},{"datum":"2025-04-08","ton":9.5},{"datum":"2025-04-08","ton":9.37},{"datum":"2025-04-08","ton":9.24},{"datum":"2025-04-08","ton":9.11},{"datum":"2025-04-08","ton":9.05},{"datum":"2025-04-08","ton":8.48},{"datum":"2025-04-08","ton":8.11},{"datum":"2025-04-08","ton":7.7},
{"datum":"2025-04-09","ton":15.71},{"datum":"2025-04-09","ton":15.51},{"datum":"2025-04-09","ton":15.38},{"datum":"2025-04-09","ton":15.25},{"datum":"2025-04-09","ton":15.12},{"datum":"2025-04-09","ton":14.99},{"datum":"2025-04-09","ton":14.86},{"datum":"2025-04-09","ton":14.73},{"datum":"2025-04-09","ton":14.6},{"datum":"2025-04-09","ton":14.47},{"datum":"2025-04-09","ton":14.34},{"datum":"2025-04-09","ton":14.29},{"datum":"2025-04-09","ton":14.12},{"datum":"2025-04-09","ton":13.98},{"datum":"2025-04-09","ton":13.84},{"datum":"2025-04-09","ton":13.7},{"datum":"2025-04-09","ton":13.56},{"datum":"2025-04-09","ton":13.43},{"datum":"2025-04-09","ton":12.85},{"datum":"2025-04-09","ton":12.61},{"datum":"2025-04-09","ton":12.53},{"datum":"2025-04-09","ton":12.4},{"datum":"2025-04-09","ton":12.28},{"datum":"2025-04-09","ton":12.16},{"datum":"2025-04-09","ton":11.95},{"datum":"2025-04-09","ton":11.82},{"datum":"2025-04-09","ton":11.69},{"datum":"2025-04-09","ton":11.56},{"datum":"2025-04-09","ton":11.43},{"datum":"2025-04-09","ton":11.3},{"datum":"2025-04-09","ton":11.18},{"datum":"2025-04-09","ton":10.28},{"datum":"2025-04-09","ton":9.66},{"datum":"2025-04-09","ton":8.85},{"datum":"2025-04-09","ton":8.36},{"datum":"2025-04-09","ton":6.97},{"datum":"2025-04-09","ton":6.21},
{"datum":"2025-04-10","ton":17.83},{"datum":"2025-04-10","ton":17.58},{"datum":"2025-04-10","ton":17.11},{"datum":"2025-04-10","ton":15.99},{"datum":"2025-04-10","ton":15.63},{"datum":"2025-04-10","ton":15.39},{"datum":"2025-04-10","ton":15.26},{"datum":"2025-04-10","ton":15.13},{"datum":"2025-04-10","ton":15.0},{"datum":"2025-04-10","ton":14.86},{"datum":"2025-04-10","ton":14.73},{"datum":"2025-04-10","ton":14.33},{"datum":"2025-04-10","ton":14.2},{"datum":"2025-04-10","ton":14.06},{"datum":"2025-04-10","ton":13.92},{"datum":"2025-04-10","ton":13.79},{"datum":"2025-04-10","ton":13.63},{"datum":"2025-04-10","ton":13.18},{"datum":"2025-04-10","ton":13.05},{"datum":"2025-04-10","ton":12.92},{"datum":"2025-04-10","ton":12.79},{"datum":"2025-04-10","ton":12.66},{"datum":"2025-04-10","ton":12.53},{"datum":"2025-04-10","ton":12.32},{"datum":"2025-04-10","ton":11.79},{"datum":"2025-04-10","ton":11.42},{"datum":"2025-04-10","ton":11.18},{"datum":"2025-04-10","ton":10.85},{"datum":"2025-04-10","ton":10.61},{"datum":"2025-04-10","ton":9.95},{"datum":"2025-04-10","ton":9.82},{"datum":"2025-04-10","ton":9.69},{"datum":"2025-04-10","ton":9.56},{"datum":"2025-04-10","ton":9.43},{"datum":"2025-04-10","ton":9.3},{"datum":"2025-04-10","ton":8.77},{"datum":"2025-04-10","ton":8.53},{"datum":"2025-04-10","ton":8.03},
{"datum":"2025-04-11","ton":17.66},{"datum":"2025-04-11","ton":16.33},{"datum":"2025-04-11","ton":15.96},{"datum":"2025-04-11","ton":15.58},{"datum":"2025-04-11","ton":15.14},{"datum":"2025-04-11","ton":14.88},{"datum":"2025-04-11","ton":14.59},{"datum":"2025-04-11","ton":14.2},{"datum":"2025-04-11","ton":14.04},{"datum":"2025-04-11","ton":13.71},{"datum":"2025-04-11","ton":13.57},{"datum":"2025-04-11","ton":13.43},{"datum":"2025-04-11","ton":13.3},{"datum":"2025-04-11","ton":12.45},{"datum":"2025-04-11","ton":12.2},{"datum":"2025-04-11","ton":11.99},{"datum":"2025-04-11","ton":11.72},{"datum":"2025-04-11","ton":10.61},{"datum":"2025-04-11","ton":10.44},{"datum":"2025-04-11","ton":10.12},{"datum":"2025-04-11","ton":9.87},{"datum":"2025-04-11","ton":8.91},
{"datum":"2025-04-12","ton":16.13},{"datum":"2025-04-12","ton":15.72},{"datum":"2025-04-12","ton":15.29},{"datum":"2025-04-12","ton":14.69},{"datum":"2025-04-12","ton":14.07},{"datum":"2025-04-12","ton":13.53},{"datum":"2025-04-12","ton":13.08},{"datum":"2025-04-12","ton":11.85},{"datum":"2025-04-12","ton":11.5},{"datum":"2025-04-12","ton":11.3},{"datum":"2025-04-12","ton":11.1},{"datum":"2025-04-12","ton":9.57},{"datum":"2025-04-12","ton":9.29},{"datum":"2025-04-12","ton":8.71},{"datum":"2025-04-12","ton":7.43},
{"datum":"2025-04-13","ton":14.06},{"datum":"2025-04-13","ton":10.48},{"datum":"2025-04-13","ton":10.42},
{"datum":"2025-04-14","ton":16.75},{"datum":"2025-04-14","ton":15.81},{"datum":"2025-04-14","ton":13.96},{"datum":"2025-04-14","ton":12.69},{"datum":"2025-04-14","ton":9.72},{"datum":"2025-04-14","ton":9.35},{"datum":"2025-04-14","ton":7.6},{"datum":"2025-04-14","ton":6.56},{"datum":"2025-04-14","ton":6.14},
{"datum":"2025-04-15","ton":17.83},{"datum":"2025-04-15","ton":15.27},{"datum":"2025-04-15","ton":13.57},{"datum":"2025-04-15","ton":12.32},{"datum":"2025-04-15","ton":10.87},{"datum":"2025-04-15","ton":10.55},{"datum":"2025-04-15","ton":9.26},{"datum":"2025-04-15","ton":9.18},{"datum":"2025-04-15","ton":6.62},
{"datum":"2025-04-17","ton":11.21},{"datum":"2025-04-17","ton":9.25},{"datum":"2025-04-17","ton":6.6},{"datum":"2025-04-17","ton":6.45},
{"datum":"2025-04-18","ton":10.27},{"datum":"2025-04-18","ton":9.67},
{"datum":"2025-04-22","ton":12.62},{"datum":"2025-04-22","ton":10.79},{"datum":"2025-04-22","ton":7.16},
{"datum":"2025-04-23","ton":16.57},{"datum":"2025-04-23","ton":13.78},{"datum":"2025-04-23","ton":12.01},
{"datum":"2025-04-24","ton":13.43}
],
"trend":[{"datum":"2025-03-12","ton":15.04},{"datum":"2025-04-24","ton":11.67}],
"arrow":[{"start":"2025-03-21T20:00:00Z","end":"2025-04-14T04:00:00Z","ton":18.625}],
"heads":[{"datum":"2025-03-21","ton":18.625,"side":"left"},{"datum":"2025-04-15","ton":18.625,"side":"right"}],
"label":[{"datum":"2025-04-02T02:00:00Z","ton":18.9,"text":"1,7 ton socker"}]
},
"layer":[
{"data":{"name":"beets"},
 "mark":{"type":"circle","size":135,"opacity":1,"color":"#156082"},
 "encoding":{
  "x":{"field":"datum","type":"temporal",
   "scale":{"type":"utc","domain":[{"year":2025,"month":3,"date":9,"utc":true},{"year":2025,"month":4,"date":28,"utc":true}]},
   "axis":{"title":"Datum","format":"%Y-%m-%d","grid":false,"ticks":false,"domainColor":"#c8c8c8","domainWidth":1.5,
    "labelFont":"Liberation Sans","labelFontSize":18,"labelColor":"#595959","labelPadding":18,"labelFlush":false,"labelOverlap":false,
    "titleFont":"Liberation Sans","titleFontSize":20,"titleFontWeight":"normal","titleColor":"#595959","titlePadding":9,
    "values":[{"year":2025,"month":3,"date":9,"utc":true},{"year":2025,"month":3,"date":14,"utc":true},{"year":2025,"month":3,"date":19,"utc":true},{"year":2025,"month":3,"date":24,"utc":true},{"year":2025,"month":3,"date":29,"utc":true},{"year":2025,"month":4,"date":3,"utc":true},{"year":2025,"month":4,"date":8,"utc":true},{"year":2025,"month":4,"date":13,"utc":true},{"year":2025,"month":4,"date":18,"utc":true},{"year":2025,"month":4,"date":23,"utc":true},{"year":2025,"month":4,"date":28,"utc":true}]}},
  "y":{"field":"ton","type":"quantitative",
   "scale":{"domain":[5,19],"nice":false,"zero":false},
   "axis":{"title":"Polsocker ton/ha","values":[5,7,9,11,13,15,17,19],"format":"d","grid":true,"gridColor":"#d9d9d9","gridWidth":1.2,"ticks":false,
    "domainColor":"#d9d9d9","domainWidth":1.2,
    "labelFont":"Liberation Sans","labelFontSize":18,"labelColor":"#595959","labelPadding":19,
    "titleFont":"Liberation Sans","titleFontSize":20,"titleFontWeight":"normal","titleColor":"#595959","titlePadding":8}}
 }},
{"data":{"name":"trend"},
 "mark":{"type":"line","color":"#4ea72e","strokeWidth":2.6},
 "encoding":{"x":{"field":"datum","type":"temporal"},"y":{"field":"ton","type":"quantitative"}}},
{"data":{"name":"arrow"},
 "mark":{"type":"rule","color":"#ff0000","strokeWidth":9},
 "encoding":{"x":{"field":"start","type":"temporal"},"x2":{"field":"end"},"y":{"field":"ton","type":"quantitative"}}},
{"data":{"name":"heads"},
 "mark":{"type":"point","filled":true,"color":"#ff0000","opacity":1,"size":900,"strokeWidth":0},
 "encoding":{"x":{"field":"datum","type":"temporal"},"y":{"field":"ton","type":"quantitative"},
  "shape":{"field":"side","type":"nominal","scale":{"domain":["left","right"],"range":["M0,0L2,-1L2,1Z","M0,0L-2,-1L-2,1Z"]},"legend":null}}},
{"data":{"name":"label"},
 "mark":{"type":"text","font":"Liberation Sans","fontSize":44,"fontWeight":"bold","color":"#000000","align":"center","baseline":"alphabetic"},
 "encoding":{"x":{"field":"datum","type":"temporal"},"y":{"field":"ton","type":"quantitative"},"text":{"field":"text"}}}
]
}
